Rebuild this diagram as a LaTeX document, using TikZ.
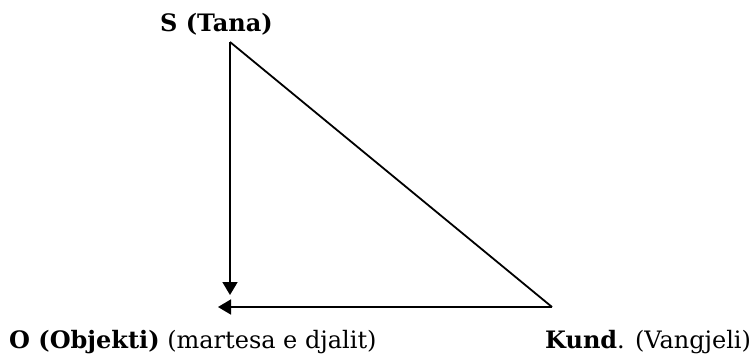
\documentclass[tikz,border=0pt]{standalone}
\usepackage{fontspec}
\setmainfont{DejaVu Serif}
\usetikzlibrary{arrows.meta}
\begin{document}
\begin{tikzpicture}[x=1pt,y=1pt,
  lbl/.style={inner sep=0pt,anchor=base west,font=\fontsize{24}{28}\selectfont},
  edge/.style={line width=1.8pt},
  arr/.style={edge,-{Triangle[length=13pt,width=15pt]}}]
\useasboundingbox (0,0) rectangle (754,354);
\coordinate (S) at (230,312);
\coordinate (V) at (230,59);
\coordinate (K) at (552,47);
\coordinate (H) at (218,47);
\node[lbl] (ls) at (160,322) {\textbf{S (Tana)}};
\node[lbl] (lo) at (9,6) {\textbf{O (Objekti)} (martesa e djalit)};
\node[lbl] (lk) at (545,6) {\textbf{Kund}. (Vangjeli)};
\draw[arr] (S) -- (V);
\draw[edge] (S) -- (K);
\draw[arr] (K) -- (H);
\end{tikzpicture}
\end{document}
